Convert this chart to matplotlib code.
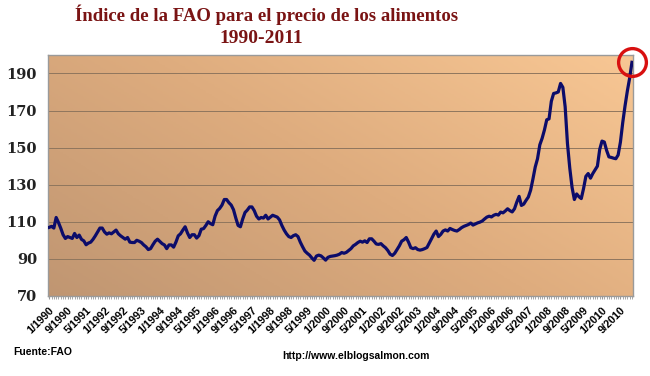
import numpy as np
import matplotlib
matplotlib.use("Agg")
import matplotlib.pyplot as plt
from matplotlib.colors import LinearSegmentedColormap
from matplotlib.transforms import ScaledTranslation

# FAO food price index, monthly values from 1/1990 to 2/2011
values_1990 = [107, 107.5, 106.6, 112.3, 109.6, 106.5, 103, 101, 102, 101.5, 101, 103.7]
values_1991 = [101.5, 102.8, 100.5, 99.7, 97.6, 98.5, 99, 100.5, 102.4, 104.5, 106.6, 106.6]
values_1992 = [104.5, 103.3, 104, 103.5, 104.5, 105.5, 103.5, 102.4, 101.5, 100.6, 101.5, 99]
values_1993 = [98.8, 98.8, 100, 99.5, 98.8, 97.5, 96.5, 95, 95.5, 97.6, 99.5, 100.6]
values_1994 = [99.4, 98.2, 97.5, 95.5, 97.5, 97.5, 96.3, 99, 102.4, 103.5, 105.5, 107.3]
values_1995 = [104, 101.5, 103, 103, 101.2, 102.5, 106, 106.3, 108, 110, 109, 108.4]
values_1996 = [113, 116, 117.2, 119, 122, 122, 120.3, 119, 116.5, 112, 108, 107.3]
values_1997 = [111.5, 115, 116.3, 118, 118, 116, 113, 111.5, 112.3, 112, 113.5, 111.5]
values_1998 = [112.5, 113.5, 113, 112.5, 111, 108, 105.5, 103.5, 102, 101.5, 102.5, 103]
values_1999 = [102, 99, 96.5, 94.2, 93, 92, 90.5, 89.2, 91.5, 92, 91.6, 90.5]
values_2000 = [89.3, 90.8, 91.3, 91.5, 91.7, 92, 92.5, 93.4, 93, 93.5, 94.5, 95.5]
values_2001 = [97, 97.8, 98.8, 99.5, 99, 99.7, 98.8, 100.8, 100.8, 99.5, 98, 97.8]
values_2002 = [98.2, 97, 96, 94.5, 92.5, 91.8, 93, 95, 97, 99.5, 100.3, 101.5]
values_2003 = [99, 96, 95.5, 96, 95, 94.7, 95, 95.5, 96.1, 98.5, 101, 103.3]
values_2004 = [105, 102, 103.2, 105, 105.6, 105, 106.4, 105.8, 105.3, 105, 105.8, 106.8]
values_2005 = [107.5, 108, 108.5, 109.3, 108.2, 108.8, 109.4, 109.8, 110.4, 111.5, 112.5, 113]
values_2006 = [112.6, 113.5, 114, 113.6, 115.2, 114.8, 115.8, 117, 116, 115.3, 117, 120.6]
values_2007 = [123.7, 118.8, 119.5, 121.5, 123.3, 127, 133, 139.5, 144, 151.5, 155, 159.5]
values_2008 = [165, 165.5, 175, 179.2, 179.5, 180, 184.6, 182.5, 172, 152.2, 139, 128.5]
values_2009 = [122, 125, 123.5, 122.5, 128, 134.5, 136, 133.5, 136, 138, 140, 149]
values_2010 = [153.5, 153, 148.5, 145, 144.7, 144.3, 144, 146, 153, 163.5, 172.5, 180.5]
values_2011 = [187.5, 196]

series = (values_1990 + values_1991 + values_1992 + values_1993 + values_1994 + values_1995
          + values_1996 + values_1997 + values_1998 + values_1999 + values_2000 + values_2001
          + values_2002 + values_2003 + values_2004 + values_2005 + values_2006 + values_2007
          + values_2008 + values_2009 + values_2010 + values_2011)

months = [f"{m}/{y}" for y in range(1990, 2012) for m in range(1, 13)][:len(series)]
yticks = [70, 90, 110, 130, 150, 170, 190]

fig = plt.figure(figsize=(6.5, 3.76), dpi=100)
ax = fig.add_axes([0.074, 0.213, 0.9, 0.641])

# diagonal brown-to-peach gradient for the plot area
gx, gy = np.meshgrid(np.linspace(0, 1, 200), np.linspace(0, 1, 200))
grad = 0.6 * gx + 0.4 * gy
cmap = LinearSegmentedColormap.from_list("bg", ["#c09672", "#deac7e", "#f8c794"])
ax.imshow(grad, cmap=cmap, origin="lower", extent=[0, 1, 0, 1], transform=ax.transAxes,
          aspect="auto", zorder=0)

x = np.arange(len(series))
ax.plot(x, series, color="#0c0c6a", lw=2.3, zorder=3, solid_joinstyle="round")
ax.plot(x[-1], series[-1], marker="o", ms=20, mfc="none", mec="#d81010", mew=2.4,
        clip_on=False, zorder=4)

ax.set_xlim(-0.5, len(series) - 0.5)
ax.set_ylim(70, 200)
ax.set_yticks(yticks)
ax.set_yticklabels([str(v) for v in yticks], family="DejaVu Serif", fontweight="bold",
                   fontsize=10.5, color="#222222")
ax.yaxis.grid(True, color="#8f765e", lw=0.7)
ax.set_axisbelow(True)
for g in ax.get_ygridlines():
    g.set_zorder(1)
ax.tick_params(axis="y", length=0, pad=8)

label_pos = list(range(0, len(series), 8))
ax.set_xticks(label_pos)
ax.set_xticklabels([months[i] for i in label_pos], rotation=45, ha="right",
                   rotation_mode="anchor", fontsize=7.8, fontweight="bold",
                   family="Liberation Sans")
shift = ScaledTranslation(-3 / 100, -8 / 100, fig.dpi_scale_trans)
for lbl in ax.get_xticklabels():
    lbl.set_transform(lbl.get_transform() + shift)
ax.set_xticks(x, minor=True)
ax.tick_params(axis="x", which="both", length=2.5, color="#999999", pad=4)

for s in ax.spines.values():
    s.set_color("#9a9a9a")
    s.set_linewidth(1.0)

fig.text(0.41, 0.962, "Índice de la FAO para el precio de los alimentos", ha="center",
         va="center", family="Liberation Serif", fontweight="bold", fontsize=13.5, color="#7a1414")
fig.text(0.402, 0.898, "1990-2011", ha="center", va="center", family="Liberation Serif",
         fontweight="bold", fontsize=14, color="#7a1414")
fig.text(0.021, 0.063, "Fuente:FAO", ha="left", va="center", family="Liberation Sans",
         fontweight="bold", fontsize=7.5)
fig.text(0.548, 0.052, "http://www.elblogsalmon.com", ha="center", va="center",
         family="Liberation Sans", fontweight="bold", fontsize=7.5)

fig.savefig("out.png", dpi=100)
